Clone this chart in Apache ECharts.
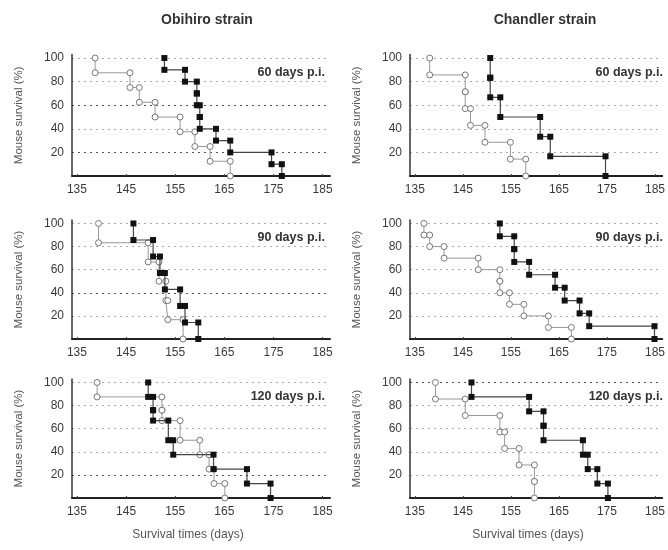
<!DOCTYPE html>
<html><head><meta charset="utf-8">
<script src="https://cdn.jsdelivr.net/npm/echarts@6/dist/echarts.min.js"></script>
<style>html,body{margin:0;padding:0;background:#fff}#c{width:668px;height:550px}</style>
</head><body><div id="c"></div>
<script>
// ---- text ----
const strainTitles = ['Obihiro strain', 'Chandler strain'];
const panelLabels = ['60 days p.i.', '90 days p.i.', '120 days p.i.'];
const yAxisTitle = 'Mouse survival (%)';
const xAxisTitle = 'Survival times (days)';
const xTickValues = [135, 145, 155, 165, 175, 185];
const yTickValues = [20, 40, 60, 80, 100];

// ---- data: death days and survival level (%) after each death (first = 100 start) ----
// Obihiro strain, 60 days p.i.
const obi60OpenDays = [138.7, 145.8, 147.7, 150.9, 156.0, 159.0, 162.1, 166.2];
const obi60OpenSurv = [100, 87.5, 75, 62.5, 50, 37.5, 25, 12.5, 0];
const obi60FillDays = [152.8, 157.0, 159.4, 159.4, 160.0, 160.0, 163.3, 166.2, 174.6, 176.7];
const obi60FillSurv = [100, 90, 80, 70, 60, 50, 40, 30, 20, 10, 0];
// Obihiro strain, 90 days p.i.
const obi90OpenDays = [139.4, 149.5, 151.7, 153.1, 153.5, 156.6];
const obi90OpenSurv = [100, 83.3, 66.7, 50, 33.3, 16.7, 0];
const obi90FillDays = [146.5, 150.5, 151.9, 152.9, 156.0, 157.0, 159.7];
const obi90FillSurv = [100, 85.7, 71.4, 57.1, 42.9, 28.6, 14.3, 0];
// Obihiro strain, 120 days p.i.
const obi120OpenDays = [139.1, 152.3, 152.3, 156.0, 160.0, 161.9, 162.9, 165.1];
const obi120OpenSurv = [100, 87.5, 76, 67, 50, 37.5, 25, 12.5, 0];
const obi120FillDays = [149.5, 150.5, 150.5, 153.6, 154.6, 162.8, 169.6, 174.4];
const obi120FillSurv = [100, 87.5, 76, 67, 50, 37.5, 25, 12.5, 0];
// Chandler strain, 60 days p.i.
const cha60OpenDays = [138.1, 145.5, 145.5, 146.6, 149.6, 154.9, 158.1];
const cha60OpenSurv = [100, 85.7, 71.4, 57.1, 42.9, 28.6, 14.3, 0];
const cha60FillDays = [150.7, 150.7, 152.8, 161.1, 163.2, 174.7];
const cha60FillSurv = [100, 83.3, 66.7, 50, 33.3, 16.7, 0];
// Chandler strain, 90 days p.i.
const cha90OpenDays = [136.9, 138.1, 141.1, 148.2, 152.7, 152.7, 154.7, 157.7, 162.8, 167.6];
const cha90OpenSurv = [100, 90, 80, 70, 60, 50, 40, 30, 20, 10, 0];
const cha90FillDays = [152.7, 155.7, 155.7, 158.8, 164.2, 166.2, 169.3, 171.3, 184.9];
const cha90FillSurv = [100, 88.9, 77.8, 66.7, 55.6, 44.4, 33.3, 22.2, 11.1, 0];
// Chandler strain, 120 days p.i.
const cha120OpenDays = [139.3, 145.5, 152.7, 153.7, 156.7, 159.9, 159.9];
const cha120OpenSurv = [100, 85.7, 71.4, 57.1, 42.9, 28.6, 14.3, 0];
const cha120FillDays = [146.8, 158.8, 161.8, 161.8, 170.0, 171.0, 173.0, 175.2];
const cha120FillSurv = [100, 87.5, 75, 62.5, 50, 37.5, 25, 12.5, 0];

// ---- build ----
function km(days, surv) {
  const pts = [];
  for (let i = 0; i < days.length; i++) {
    pts.push([days[i], surv[i]]);
    pts.push([days[i], surv[i + 1]]);
  }
  return pts;
}

const FONT = '"Liberation Sans", Arial, sans-serif';
const colLeft = [72, 410];
const rows = [ {top: 54.5, height: 121.5}, {top: 220, height: 119}, {top: 379, height: 119} ];
const L = '#aaa', D = '#555';
const panels = [
  {col:0,row:0, open:[obi60OpenDays,obi60OpenSurv], fill:[obi60FillDays,obi60FillSurv], grid:[D,L,D,L,L]},
  {col:1,row:0, open:[cha60OpenDays,cha60OpenSurv], fill:[cha60FillDays,cha60FillSurv], grid:[L,L,L,L,L]},
  {col:0,row:1, open:[obi90OpenDays,obi90OpenSurv], fill:[obi90FillDays,obi90FillSurv], grid:[L,D,L,L,L]},
  {col:1,row:1, open:[cha90OpenDays,cha90OpenSurv], fill:[cha90FillDays,cha90FillSurv], grid:[L,L,L,L,L]},
  {col:0,row:2, open:[obi120OpenDays,obi120OpenSurv], fill:[obi120FillDays,obi120FillSurv], grid:[D,L,L,L,L]},
  {col:1,row:2, open:[cha120OpenDays,cha120OpenSurv], fill:[cha120FillDays,cha120FillSurv], grid:[L,L,L,L,D]}
];

const grid = [], xAxis = [], yAxis = [], series = [], graphic = [];
panels.forEach((p, i) => {
  grid.push({left: colLeft[p.col], top: rows[p.row].top, width: 258, height: rows[p.row].height});
  xAxis.push({
    type: 'value', gridIndex: i, min: 134, max: 186.5,
    axisLine: {lineStyle: {color: '#222', width: 2}},
    axisTick: {show: true, inside: true, length: 2, customValues: xTickValues, lineStyle: {color: '#444'}},
    axisLabel: {customValues: xTickValues, color: '#3a3a3a', fontSize: 12, fontFamily: FONT, margin: 8},
    splitLine: {show: false}
  });
  yAxis.push({
    type: 'value', gridIndex: i, min: 0, max: 103,
    name: yAxisTitle, nameLocation: 'middle', nameGap: 47,
    nameTextStyle: {color: '#555', fontSize: 11.5, fontFamily: FONT},
    axisLine: {show: true, lineStyle: {color: '#333', width: 1.5}},
    axisTick: {show: false, customValues: yTickValues},
    axisLabel: {customValues: yTickValues, color: '#3a3a3a', fontSize: 12, fontFamily: FONT, margin: 8},
    splitLine: {show: true, lineStyle: {color: p.grid, type: [2, 4], width: 1}}
  });
  series.push({
    type: 'line', xAxisIndex: i, yAxisIndex: i, data: km(p.open[0], p.open[1]),
    symbol: 'circle', symbolSize: 6, showAllSymbol: true, z: 3,
    itemStyle: {color: '#fff', borderColor: '#777', borderWidth: 1},
    lineStyle: {color: '#999', width: 1}
  });
  series.push({
    type: 'line', xAxisIndex: i, yAxisIndex: i, data: km(p.fill[0], p.fill[1]),
    symbol: 'rect', symbolSize: 6, showAllSymbol: true, z: 4,
    itemStyle: {color: '#111'},
    lineStyle: {color: '#444', width: 1.2}
  });
  const rightX = colLeft[p.col] + 253;
  const yMid = rows[p.row].top + rows[p.row].height * (1 - 87.5 / 103);
  graphic.push({type: 'text', x: rightX, y: yMid,
    style: {text: panelLabels[p.row], align: 'right', verticalAlign: 'middle', font: 'bold 12.5px ' + FONT, fill: '#333'}});
});
graphic.push({type:'text', x: 207, y: 20, style:{text: strainTitles[0], align:'center', verticalAlign:'middle', font:'bold 14px '+FONT, fill:'#333'}});
graphic.push({type:'text', x: 545, y: 20, style:{text: strainTitles[1], align:'center', verticalAlign:'middle', font:'bold 14px '+FONT, fill:'#333'}});
graphic.push({type:'text', x: 188, y: 535, style:{text: xAxisTitle, align:'center', verticalAlign:'middle', font:'12px '+FONT, fill:'#555'}});
graphic.push({type:'text', x: 528, y: 535, style:{text: xAxisTitle, align:'center', verticalAlign:'middle', font:'12px '+FONT, fill:'#555'}});

const chart = echarts.init(document.getElementById('c'), null, {renderer: 'canvas'});
chart.setOption({animation: false, backgroundColor: '#fff', grid, xAxis, yAxis, series, graphic});
</script>
</body></html>
